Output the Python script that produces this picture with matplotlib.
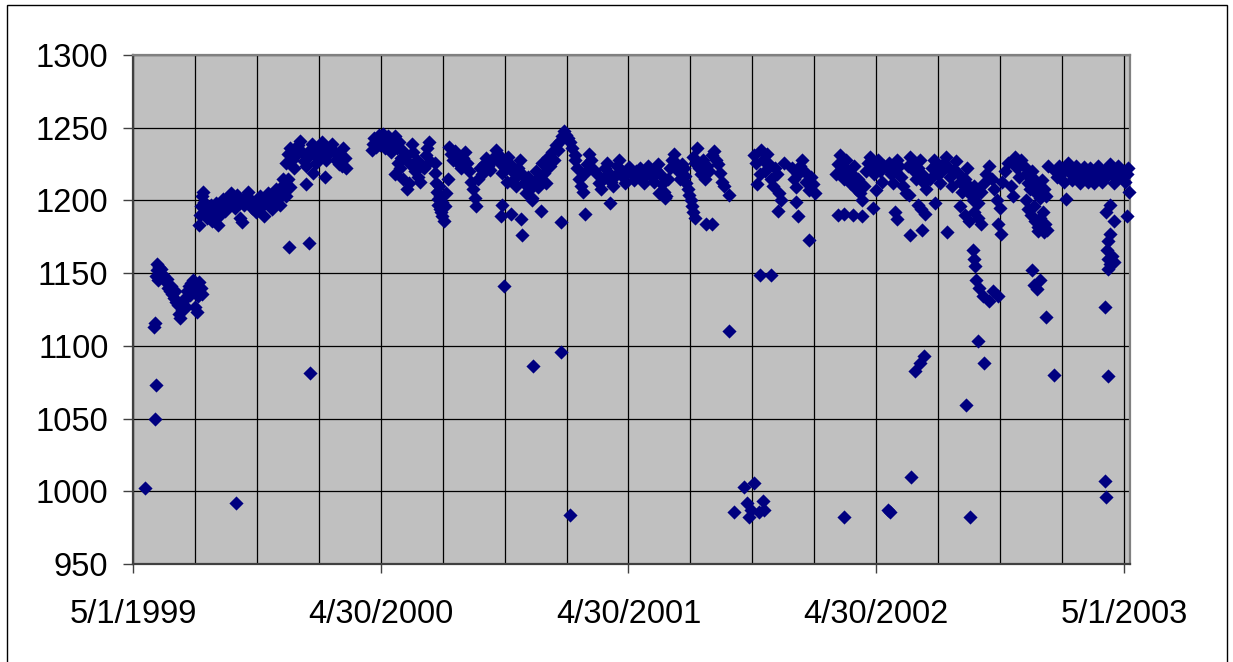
import matplotlib
matplotlib.use("Agg")
import matplotlib.pyplot as plt
from matplotlib.patches import Rectangle

plt.rcParams['font.family'] = ['Liberation Sans', 'DejaVu Sans']

# x = days after 5/1/1999, y = value
day_offsets = [
    # May-Aug 1999
    18, 32, 34, 31, 33, 34, 35, 36, 38, 40, 37, 42, 44, 46, 48, 50, 52, 54, 56, 58,
    60, 62, 64, 66, 68, 70, 72, 74, 76, 78, 80, 82, 84, 86, 88, 90, 92, 94, 96, 98,
    100, 102,
    97, 99, 100, 101, 103, 105, 107, 109, 111, 113, 115, 117, 119, 121, 123, 126, 128, 130, 132, 135,
    138, 141, 144, 147, 150, 153, 156, 158, 160, 163, 166, 169, 172, 175, 152,
    # autumn 1999
    181, 184, 187, 190, 193, 196, 199, 202, 205, 208, 211, 214, 217, 220, 223, 226, 229, 232, 230, 260,
    261,
    225, 228, 231, 234, 237, 240, 243, 246, 249, 252, 255, 258, 261, 264, 267, 270, 273, 276, 279, 282,
    285, 288, 291, 294, 297, 300, 303, 306, 309, 312, 255, 265, 283, 221, 308, 314,
    # spring 2000
    352, 354, 356, 358, 360, 362, 364, 366, 368, 370, 372, 374, 376, 378, 380, 383, 386, 389, 392, 395,
    398, 386, 390, 394, 398, 401, 404, 407, 409, 411, 413, 416, 418, 420, 423, 426, 429, 432, 434, 436,
    438,
    445, 447, 448, 449, 450, 451, 452, 453, 454, 455, 456, 458, 460, 462, 464, 446,
    466, 469, 472, 475, 478, 481, 484, 487, 490, 493, 496, 499, 501, 504, 506, 508, 511, 514, 517, 520,
    523, 526, 529, 532, 535, 538, 541, 544, 546, 549, 551, 544, 543, 547,
    # late 2000 - early 2001
    553, 556, 559, 562, 565, 567, 570, 573, 576, 579, 582, 585, 588, 591, 594, 597, 600, 603, 606, 609,
    612, 615, 618, 621, 624, 627, 630, 633, 636, 639, 642, 645, 648, 651,
    557, 572, 573, 588, 601, 631, 666, 703, 590, 631, 644,
    652, 655, 658, 661, 664, 667, 670, 673, 676, 679, 684, 687, 690, 693, 696, 699, 702, 705, 708, 711,
    714, 717, 720, 723, 726, 729, 732, 735, 738, 741,
    # 2001
    744, 747, 750, 753, 756, 759, 762, 765, 768, 771, 774, 777, 780, 783, 786, 789, 792, 795, 798, 801,
    804, 807, 810, 776, 785,
    812, 814, 816, 818, 820, 822, 824, 826, 828, 845, 853,
    826, 829, 832, 835, 838, 841, 844, 847, 850, 853, 856, 859, 862, 865, 868, 871, 879, 879,
    916, 918, 920, 924,
    901, 916, 886, 905, 911, 908, 923,
    # late 2001 - 2002
    926, 929, 932, 935, 938, 941, 944, 947, 950, 953, 956, 951, 960, 924, 940,
    972, 975, 978, 981, 984, 987, 990, 993, 996, 999, 1002, 1005, 977, 981, 997,
    1036, 1039, 1042, 1045, 1048, 1051, 1054, 1057, 1060, 1063, 1066, 1069, 1072, 1075, 1078, 1081,
    1084, 1087, 1090, 1093, 1096, 1099, 1102, 1105, 1108, 1040, 1048, 1062, 1075, 1091, 1095,
    929, 930, 1048, 1113,
    # 2002
    1112, 1115, 1118, 1121, 1124, 1127, 1130, 1133, 1136, 1139, 1142, 1145, 1148, 1151, 1154, 1157,
    1160, 1163, 1166, 1169, 1124, 1126, 1144, 1146, 1163, 1157, 1162, 1168, 1182,
    1175, 1178, 1181, 1184, 1187, 1190, 1193, 1196, 1199, 1202, 1205, 1208, 1211, 1214, 1217, 1220,
    1223, 1226, 1229, 1232, 1235, 1238, 1200,
    1220, 1227, 1233, 1240, 1246, 1251,
    1240, 1243, 1246, 1250, 1254, 1258, 1262, 1266, 1270, 1274, 1278, 1282, 1286, 1290, 1294, 1297,
    1275, 1280,
    1239, 1240, 1241, 1243, 1247, 1253, 1262, 1268, 1275, 1246, 1255, 1228, 1153, 1160, 1166, 1147,
    1116, 1234,
    # late 2002 - 2003
    1298, 1301, 1304, 1307, 1310, 1313, 1316, 1319, 1322, 1325, 1328, 1331, 1334, 1337, 1340, 1343,
    1346, 1349,
    1316, 1320, 1324, 1328, 1330, 1334, 1338, 1342, 1345, 1348, 1335, 1343, 1325, 1329, 1333, 1337,
    1346, 1358,
    1360, 1363, 1366, 1369, 1372, 1375, 1378, 1381, 1384, 1387, 1390, 1393, 1396, 1399, 1402, 1405,
    1408, 1411, 1414, 1417, 1420, 1423, 1426, 1429, 1432, 1435, 1438, 1441, 1444, 1447, 1450, 1453,
    1456, 1459, 1462, 1465, 1467, 1375,
    1434, 1440, 1446, 1440, 1438, 1436, 1437, 1441, 1444, 1447, 1438, 1433, 1437, 1433, 1435, 1466,
    1468,
]

values = [
    # May-Aug 1999
    1002, 1050, 1073, 1113, 1116, 1148, 1152, 1156, 1154, 1150, 1145, 1153, 1149, 1147, 1144, 1146, 1140, 1138, 1141, 1136,
    1133, 1138, 1130, 1128, 1122, 1119, 1125, 1131, 1133, 1127, 1138, 1141, 1135, 1143, 1145, 1139, 1127, 1123, 1134, 1144,
    1140, 1136,
    1183, 1190, 1196, 1203, 1206, 1199, 1193, 1188, 1195, 1191, 1197, 1186, 1189, 1194, 1198, 1183, 1190, 1196, 1201, 1193,
    1198, 1203, 1205, 1199, 1195, 1204, 1200, 1188, 1185, 1197, 1203, 1206, 1201, 1195, 992,
    # autumn 1999
    1192, 1198, 1203, 1196, 1189, 1200, 1205, 1199, 1194, 1203, 1208, 1201, 1197, 1206, 1211, 1203, 1215, 1209, 1168, 1171,
    1081,
    1226, 1232, 1236, 1228, 1222, 1231, 1238, 1241, 1233, 1227, 1224, 1230, 1235, 1239, 1232, 1226, 1229, 1236, 1240, 1234,
    1228, 1232, 1237, 1239, 1233, 1228, 1225, 1231, 1236, 1229, 1211, 1219, 1216, 1215, 1224, 1222,
    # spring 2000
    1235, 1239, 1243, 1237, 1241, 1245, 1238, 1242, 1246, 1240, 1236, 1243, 1244, 1239, 1233, 1241, 1244, 1236, 1240, 1229,
    1234, 1218, 1226, 1222, 1215, 1230, 1208, 1212, 1225, 1239, 1233, 1220, 1228, 1216, 1213, 1224, 1222, 1231, 1236, 1240,
    1227,
    1219, 1212, 1206, 1201, 1197, 1210, 1203, 1194, 1192, 1199, 1189, 1186, 1196, 1205, 1215, 1226,
    1237, 1232, 1228, 1234, 1230, 1225, 1222, 1229, 1233, 1226, 1220, 1213, 1208, 1202, 1196, 1215, 1222, 1218, 1225, 1229,
    1224, 1221, 1227, 1230, 1235, 1232, 1226, 1219, 1228, 1222, 1213, 1197, 1189, 1141,
    # late 2000 - early 2001
    1230, 1225, 1220, 1215, 1210, 1222, 1228, 1218, 1212, 1205, 1216, 1208, 1202, 1213, 1220, 1209, 1215, 1226, 1219, 1212,
    1230, 1224, 1233, 1228, 1238, 1235, 1241, 1244, 1248, 1245, 1243, 1240, 1236, 1231,
    1191, 1187, 1176, 1200, 1193, 1185, 1191, 1198, 1086, 1096, 984,
    1228, 1222, 1215, 1210, 1206, 1219, 1225, 1232, 1228, 1221, 1218, 1212, 1208, 1215, 1222, 1226, 1219, 1213, 1210, 1217,
    1224, 1228, 1221, 1216, 1212, 1219, 1223, 1218, 1214, 1220,
    # 2001
    1218, 1222, 1215, 1212, 1219, 1224, 1220, 1216, 1213, 1221, 1225, 1218, 1211, 1206, 1203, 1215, 1222, 1228, 1232, 1226,
    1220, 1215, 1225, 1205, 1202,
    1222, 1217, 1212, 1208, 1204, 1200, 1196, 1192, 1188, 1184, 1184,
    1230, 1226, 1236, 1222, 1218, 1228, 1215, 1224, 1220, 1231, 1234, 1228, 1225, 1219, 1213, 1210, 1204, 1110,
    1231, 1226, 1211, 1218,
    1003, 1006, 986, 992, 987, 982, 986,
    # late 2001 - 2002
    1235, 1228, 1220, 1232, 1225, 1215, 1210, 1222, 1218, 1205, 1200, 1193, 1226, 1149, 1149,
    1222, 1215, 1209, 1218, 1224, 1228, 1220, 1213, 1207, 1216, 1211, 1205, 1199, 1189, 1173,
    1218, 1225, 1231, 1222, 1215, 1228, 1220, 1212, 1218, 1224, 1208, 1215, 1205, 1200, 1210, 1220,
    1226, 1230, 1222, 1218, 1225, 1228, 1220, 1213, 1224, 1190, 1191, 1190, 1189, 1195, 1207,
    993, 987, 982, 987,
    # 2002
    1222, 1226, 1218, 1212, 1220, 1228, 1224, 1216, 1210, 1205, 1224, 1230, 1226, 1220, 1215, 1222,
    1228, 1218, 1212, 1208, 1192, 1187, 1204, 1176, 1180, 1197, 1194, 1191, 1198,
    1215, 1222, 1228, 1225, 1218, 1212, 1220, 1226, 1230, 1223, 1216, 1210, 1221, 1227, 1219, 1213,
    1206, 1215, 1222, 1210, 1204, 1200, 1178,
    1196, 1190, 1186, 1192, 1188, 1184,
    1210, 1204, 1198, 1206, 1212, 1218, 1224, 1215, 1208, 1200, 1195, 1213, 1220, 1226, 1210, 1203,
    1184, 1177,
    1166, 1160, 1155, 1145, 1140, 1134, 1131, 1138, 1134, 1103, 1088, 1059, 1083, 1088, 1093, 1010,
    986, 982,
    # late 2002 - 2003
    1226, 1230, 1222, 1216, 1228, 1224, 1218, 1212, 1208, 1220, 1215, 1205, 1210, 1202, 1214, 1208,
    1203, 1224,
    1200, 1194, 1190, 1196, 1186, 1182, 1188, 1192, 1184, 1180, 1179, 1178, 1152, 1142, 1139, 1145,
    1120, 1080,
    1220, 1216, 1224, 1218, 1213, 1222, 1226, 1219, 1214, 1221, 1224, 1217, 1212, 1220, 1223, 1216,
    1213, 1222, 1218, 1212, 1221, 1224, 1217, 1213, 1220, 1216, 1222, 1225, 1218, 1212, 1221, 1224,
    1216, 1220, 1213, 1218, 1222, 1201,
    1192, 1197, 1186, 1177, 1172, 1166, 1160, 1156, 1162, 1158, 1153, 1127, 1079, 1007, 996, 1189,
    1206,
]

assert len(day_offsets) == len(values)

x_tick_days = [0, 365.25, 730.5, 1095.75, 1461]
x_tick_labels = ['5/1/1999', '4/30/2000', '4/30/2001', '4/30/2002', '5/1/2003']
y_ticks = [950, 1000, 1050, 1100, 1150, 1200, 1250, 1300]

W, H = 1233, 662
fig = plt.figure(figsize=(W / 100, H / 100), dpi=100)
fig.patch.set_facecolor('white')

# outer chart border (open at the bottom, as in the original crop)
fig.add_artist(Rectangle((7 / W, -0.05), (1227 - 7) / W, 1.05 - 5 / H,
                         transform=fig.transFigure, fill=False,
                         edgecolor='black', linewidth=1))

ax = fig.add_axes([133 / W, 1 - 564 / H, (1130 - 133) / W, (564 - 55) / H])
ax.set_facecolor('#c0c0c0')

ax.scatter(day_offsets, values, marker='D', s=52, color='#000080',
           linewidths=0, zorder=3, clip_on=False)

ax.set_xlim(0, 1470)
ax.set_ylim(950, 1300)
ax.set_yticks(y_ticks)
ax.set_yticklabels([str(v) for v in y_ticks])
ax.set_xticks(x_tick_days)
ax.set_xticklabels(x_tick_labels)
ax.set_xticks([i * 1461 / 16 for i in range(17)], minor=True)

ax.grid(True, which='both', color='black', linewidth=0.9, zorder=0)
ax.set_axisbelow(True)
ax.tick_params(axis='x', which='minor', length=0)
ax.tick_params(axis='y', which='major', direction='out', length=7.2, width=1,
               labelsize=23.5, pad=10.5, color='#404040')
ax.tick_params(axis='x', which='major', direction='out', length=6.5, width=1,
               labelsize=23.5, pad=18.5, color='#404040')

for side in ['left', 'bottom']:
    ax.spines[side].set_color('#404040')
    ax.spines[side].set_linewidth(1.6)
for side in ['top', 'right']:
    ax.spines[side].set_color('#808080')
    ax.spines[side].set_linewidth(1.6)

fig.savefig('out.png', dpi=100)
